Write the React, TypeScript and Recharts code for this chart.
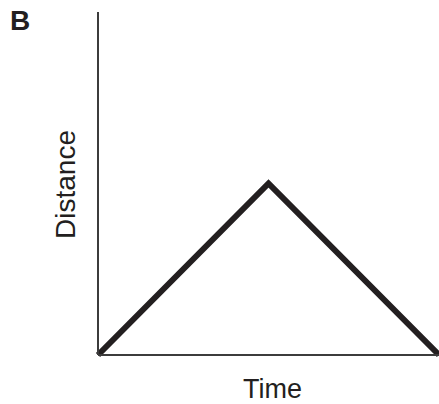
import React from 'react';
import { LineChart, Line, XAxis, YAxis, Label } from 'recharts';

const times = [0, 1, 2];
const distances = [0, 0.5, 0];
const xLabel = 'Time';
const yLabel = 'Distance';
const panelLabel = 'B';

const data = times.map((t, i) => ({ t, d: distances[i] }));

const FONT = 'Arial, "Liberation Sans", Helvetica, sans-serif';

export default function App() {
  return (
    <div style={{ position: 'absolute', left: 0, top: 0, width: 439, height: 404, background: '#fff' }}>
      <div
        style={{
          position: 'absolute',
          left: 10,
          top: 6,
          fontFamily: FONT,
          fontWeight: 'bold',
          fontSize: 28,
          lineHeight: '30px',
          color: '#231f20',
        }}
      >
        {panelLabel}
      </div>
      <LineChart width={439} height={404} data={data} margin={{ top: 12, right: 0, bottom: 0, left: 0 }}>
        <XAxis
          dataKey="t"
          type="number"
          domain={[0, 2]}
          ticks={[]}
          tick={false}
          tickLine={false}
          height={49}
          axisLine={{ stroke: '#3c3c3c', strokeWidth: 2 }}
        >
          <Label
            content={(p: any) => {
              const vb = p.viewBox || { x: 98, y: 355, width: 341, height: 49 };
              return (
                <text
                  x={vb.x + vb.width / 2 + 4}
                  y={vb.y + 43}
                  textAnchor="middle"
                  fontFamily={FONT}
                  fontSize={27}
                  fill="#231f20"
                >
                  {xLabel}
                </text>
              );
            }}
          />
        </XAxis>
        <YAxis
          dataKey="d"
          type="number"
          domain={[0, 1]}
          ticks={[]}
          tick={false}
          tickLine={false}
          width={98}
          axisLine={{ stroke: '#3c3c3c', strokeWidth: 2 }}
        >
          <Label
            content={(p: any) => {
              const vb = p.viewBox || { x: 0, y: 12, width: 98, height: 343 };
              const cx = vb.x + vb.width - 23;
              const cy = vb.y + vb.height / 2 + 1;
              return (
                <text
                  x={cx}
                  y={cy}
                  textAnchor="middle"
                  transform={`rotate(-90, ${cx}, ${cy})`}
                  fontFamily={FONT}
                  fontSize={28}
                  fill="#231f20"
                >
                  {yLabel}
                </text>
              );
            }}
          />
        </YAxis>
        <Line
          type="linear"
          dataKey="d"
          stroke="#231f20"
          strokeWidth={6}
          strokeLinejoin="miter"
          dot={false}
          activeDot={false}
          isAnimationActive={false}
        />
      </LineChart>
    </div>
  );
}
